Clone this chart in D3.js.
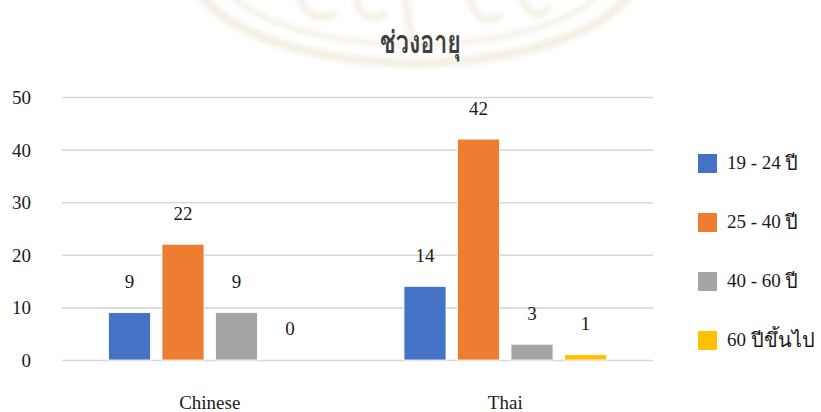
<!DOCTYPE html>
<html>
<head>
<meta charset="utf-8">
<script src="https://cdn.jsdelivr.net/npm/d3@7/dist/d3.min.js"></script>
<style>
  html, body { margin: 0; padding: 0; background: #fff; }
  svg { display: block; }
</style>
</head>
<body>
<svg id="chart" width="821" height="412"></svg>
<script>
// Age-range breakdown by nationality
const chartTitle = "ช่วงอายุ";
const categories = ["Chinese", "Thai"];
const seriesRanges = ["19 - 24", "25 - 40", "40 - 60", "60"];
const seriesUnits = ["ปี", "ปี", "ปี", "ปีขึ้นไป"];
const seriesColors = ["#4472c4", "#ed7d31", "#a5a5a5", "#ffc000"];
// values[series][category]
const values = [
  [9, 14],
  [22, 42],
  [9, 3],
  [0, 1]
];
const yTicks = [0, 10, 20, 30, 40, 50];

const LATIN = "'Liberation Serif', 'Times New Roman', serif";
const THAI = "Norasi, 'Liberation Serif', serif";

const svg = d3.select("#chart");
const plot = { left: 62, right: 653, top: 97, bottom: 360 };

// faint seal watermark behind the title
const defs = svg.append("defs");
defs.append("filter").attr("id", "soft").append("feGaussianBlur").attr("stdDeviation", 2.5);
const wm = svg.append("g").attr("fill", "none").attr("stroke", "#f4efe3").attr("filter", "url(#soft)");
wm.append("ellipse").attr("cx", 415).attr("cy", -35).attr("rx", 225).attr("ry", 98).attr("stroke-width", 9);
wm.append("ellipse").attr("cx", 415).attr("cy", -35).attr("rx", 198).attr("ry", 80).attr("stroke-width", 5);
wm.append("path")
  .attr("d", "M300,0 Q312,24 334,14 M356,0 Q364,26 384,14 M405,2 L412,40 M470,0 Q478,28 500,16 M522,0 Q536,24 548,8")
  .attr("stroke-width", 7).attr("stroke-linecap", "round");

const x0 = d3.scaleBand().domain(categories).range([plot.left, plot.right]).padding(0);
const inner = d3.scaleBand().domain(d3.range(seriesRanges.length))
  .range([46.5, x0.bandwidth() - 46.5]).paddingInner(0.215);
const y = d3.scaleLinear().domain([0, 50]).range([plot.bottom, plot.top]);

// gridlines and value axis labels
const yAxis = d3.axisLeft(y).tickValues(yTicks).tickSize(-(plot.right - plot.left)).tickPadding(31);
const gy = svg.append("g").attr("transform", `translate(${plot.left},0)`).call(yAxis);
gy.select(".domain").remove();
gy.selectAll(".tick line").attr("stroke", "#d9d9d9").attr("stroke-width", 1.6);
gy.selectAll(".tick text").attr("font-size", 19).attr("fill", "#1a1a1a")
  .attr("font-family", LATIN).attr("dy", "0.34em");

// bars
const groups = svg.append("g").selectAll("g").data(categories).join("g")
  .attr("transform", d => `translate(${x0(d)},0)`);
const cells = (c, ci) => seriesRanges.map((s, si) => ({ si, v: values[si][ci] }));
groups.selectAll("rect").data(cells).join("rect")
  .attr("x", d => inner(d.si))
  .attr("width", inner.bandwidth())
  .attr("y", d => y(d.v))
  .attr("height", d => y(0) - y(d.v))
  .attr("fill", d => seriesColors[d.si])
  .attr("stroke", "#ffffff").attr("stroke-width", 0.8);

// value labels
groups.selectAll("text.val").data(cells).join("text").attr("class", "val")
  .attr("x", d => inner(d.si) + inner.bandwidth() / 2)
  .attr("y", d => y(d.v) - 31)
  .attr("dy", "0.34em")
  .attr("text-anchor", "middle")
  .attr("font-family", LATIN).attr("font-size", 19).attr("fill", "#1a1a1a")
  .text(d => d.v);

// category labels
const xAxis = d3.axisBottom(x0).tickSize(0).tickPadding(36);
const gx = svg.append("g").attr("transform", `translate(0,${plot.bottom})`).call(xAxis);
gx.select(".domain").remove();
gx.selectAll(".tick text").attr("font-size", 19).attr("fill", "#1a1a1a").attr("font-family", LATIN);

// title
svg.append("text").attr("x", 380).attr("y", 53)
  .attr("font-family", "Garuda, Loma, sans-serif").attr("font-weight", "bold")
  .attr("font-size", 31).attr("fill", "#404040")
  .attr("textLength", 81).attr("lengthAdjust", "spacingAndGlyphs")
  .text(chartTitle);

// legend: numeric range and Thai unit are separate text runs so each keeps its own face
const legend = svg.append("g").selectAll("g").data(seriesRanges).join("g")
  .attr("transform", (d, i) => `translate(698,${163 + i * 59})`);
legend.append("rect").attr("x", 0).attr("y", -9).attr("width", 19).attr("height", 19)
  .attr("fill", (d, i) => seriesColors[i]);
legend.each(function (d, i) {
  const g = d3.select(this);
  const num = g.append("text").attr("x", 29).attr("y", 0).attr("dy", "0.34em")
    .attr("font-family", LATIN).attr("font-size", 19).attr("fill", "#1a1a1a").text(d);
  const w = num.node().getComputedTextLength();
  g.append("text").attr("x", 29 + w + 4.5).attr("y", 0).attr("dy", "0.34em")
    .attr("font-family", THAI).attr("font-size", 20).attr("fill", "#1a1a1a").text(seriesUnits[i]);
});
</script>
</body>
</html>
